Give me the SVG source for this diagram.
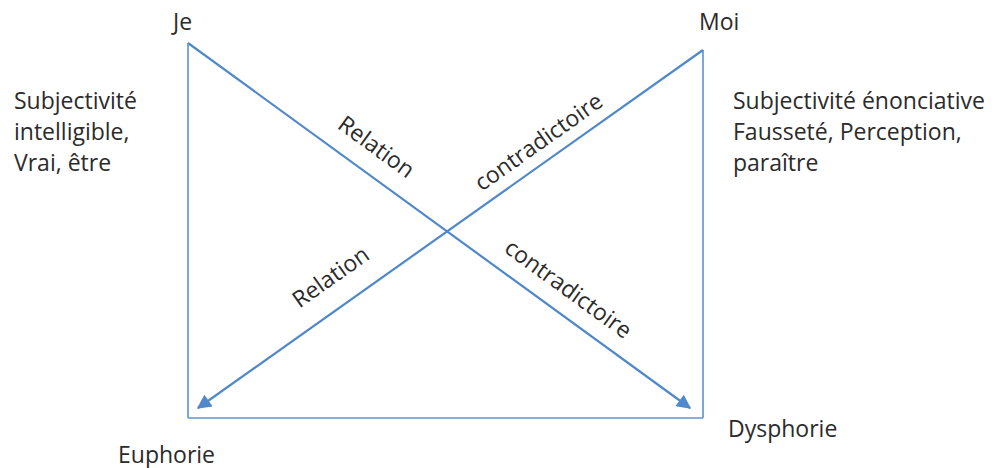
<svg xmlns="http://www.w3.org/2000/svg" width="1003" height="468" viewBox="0 0 1003 468">
  <style>
    text { font-family: "Open Sans", "Noto Sans", "Liberation Sans", sans-serif; font-size: 23px; fill: #2b2b2b; }
    .frame { stroke: #5b93d3; stroke-width: 1.6; fill: none; }
    .diag { stroke: #4f88cb; stroke-width: 2.2; fill: none; }
    .lbl { text-anchor: middle; dominant-baseline: central; }
  </style>
  <defs>
    <marker id="arrow" viewBox="0 0 10 10" refX="9" refY="5" markerWidth="7" markerHeight="6.5" markerUnits="strokeWidth" orient="auto">
      <path d="M0,0 L10,5 L0,10 Z" fill="#4f88cb"/>
    </marker>
  </defs>
  <rect width="1003" height="468" fill="#ffffff"/>

  <g id="connectors">
    <line class="frame" x1="188" y1="43" x2="188" y2="418"/>
    <line class="frame" x1="188" y1="418" x2="703" y2="418"/>
    <line class="frame" x1="703" y1="50" x2="703" y2="418"/>
    <line class="diag" x1="188" y1="43" x2="690" y2="408" marker-end="url(#arrow)"/>
    <line class="diag" x1="703" y1="50" x2="198" y2="408" marker-end="url(#arrow)"/>
    <text class="lbl" transform="translate(377,146) rotate(36)">Relation</text>
    <text class="lbl" transform="translate(538,141) rotate(-35.3)">contradictoire</text>
    <text class="lbl" transform="translate(330,276) rotate(-35.3)">Relation</text>
    <text class="lbl" transform="translate(569,288) rotate(36)">contradictoire</text>
  </g>

  <g id="je"><text x="173" y="30">Je</text></g>
  <g id="moi"><text x="699" y="30">Moi</text></g>
  <g id="left-desc">
    <text x="14" y="109">Subjectivité</text>
    <text x="14" y="140">intelligible,</text>
    <text x="14" y="171">Vrai, être</text>
  </g>
  <g id="right-desc">
    <text x="733" y="109">Subjectivité énonciative</text>
    <text x="733" y="140">Fausseté, Perception,</text>
    <text x="733" y="171">paraître</text>
  </g>
  <g id="euphorie"><text x="118" y="463">Euphorie</text></g>
  <g id="dysphorie"><text x="728" y="437">Dysphorie</text></g>
</svg>
